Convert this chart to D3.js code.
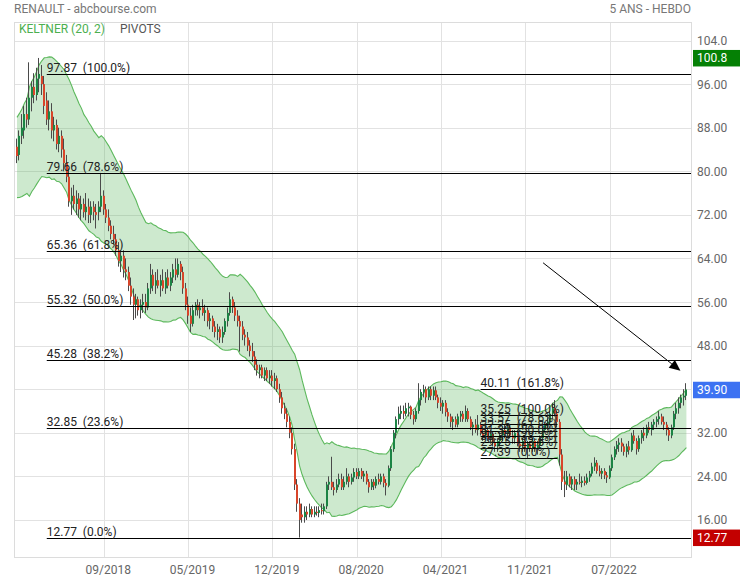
<!DOCTYPE html>
<html><head><meta charset="utf-8">
<script src="https://cdn.jsdelivr.net/npm/d3@7"></script>
<style>
body{margin:0;background:#fff}
text{font-family:Roboto,"Liberation Sans",sans-serif;font-size:12px}
</style>
</head><body>
<svg id="c" width="740" height="580"></svg>
<script>
// ---------- DATA (weekly candles) ----------
const opens = [
84.5,83.0,86.5,87.5,90.5,89.5,93.5,95.5,94.0,97.0,
97.5,96.0,93.0,89.5,91.0,87.5,88.5,85.0,86.5,84.0,
81.5,79.0,74.5,75.5,74.0,75.0,73.0,74.0,72.5,73.5,
72.0,73.5,72.5,72.5,73.5,75.5,73.0,71.5,70.0,68.5,
67.5,65.5,63.5,64.5,62.0,61.5,59.0,57.0,55.5,56.5,
54.5,55.5,56.0,55.0,58.5,61.0,59.0,60.0,59.0,60.0,
58.5,60.5,59.0,60.5,62.0,61.0,63.0,61.5,58.5,55.5,
53.5,52.0,54.5,55.5,54.5,55.0,54.0,54.5,52.5,53.0,
51.5,50.5,51.0,49.5,50.5,52.5,54.0,56.5,55.0,53.5,
52.5,51.5,50.0,49.5,48.0,47.0,46.0,44.5,43.5,44.0,
42.5,43.5,42.0,42.5,41.5,42.0,40.0,38.5,36.5,35.5,
34.0,32.0,29.0,22.5,19.0,17.0,16.5,17.5,17.0,18.0,
17.0,17.5,17.3,17.8,17.6,18.5,22.5,23.0,22.0,21.5,
22.5,23.5,22.0,23.0,24.0,23.0,23.8,24.8,24.0,25.0,
24.0,24.5,23.0,22.0,23.0,22.3,23.5,23.0,24.0,22.8,
22.3,25.5,29.0,32.0,34.5,35.5,36.0,35.5,36.5,36.8,
35.3,34.5,36.0,38.0,39.5,40.0,38.5,40.0,38.8,39.8,
38.5,37.5,36.8,37.5,35.8,35.0,34.0,34.5,33.5,35.0,
35.5,34.5,36.0,34.5,33.0,33.5,32.5,33.5,32.0,31.5,
32.5,31.0,31.8,30.2,29.5,30.5,31.5,32.5,31.8,33.0,
31.5,31.0,32.0,30.0,29.5,30.5,29.0,30.0,29.2,30.5,
29.0,29.8,31.0,32.5,33.5,34.0,35.5,36.5,35.5,34.0,
28.0,23.0,22.5,24.0,22.5,23.5,22.5,23.0,22.8,23.2,
22.8,23.8,24.5,25.8,26.5,25.0,24.5,25.0,24.2,23.8,
25.5,27.5,29.0,29.8,30.2,29.5,28.5,29.5,28.8,31.5,
30.5,29.0,31.0,32.0,31.5,33.0,32.5,33.5,34.0,34.5,
35.0,34.0,33.5,32.5,31.5,33.0,35.5,36.5,37.5,38.5,
38.8];
const highs = [
86.0,87.5,90.5,92.0,93.5,100.0,96.5,98.0,99.0,100.8,
99.5,97.5,94.5,93.0,92.5,90.0,89.5,88.0,87.5,86.0,
83.0,80.5,77.0,77.5,76.5,76.0,75.5,75.0,76.0,75.0,
74.5,74.5,74.0,74.5,79.7,76.5,74.0,73.0,71.0,70.0,
68.5,67.0,65.5,65.5,64.0,62.5,60.5,58.5,57.5,57.0,
56.5,57.5,57.5,59.5,63.0,62.0,61.5,62.0,61.0,62.0,
61.5,62.0,61.5,63.0,64.0,64.0,63.5,62.5,59.5,57.0,
55.0,55.5,56.0,56.5,56.0,56.5,55.5,55.0,54.0,53.5,
52.5,52.0,51.5,51.5,53.0,55.0,57.8,57.0,56.0,54.5,
53.5,52.5,51.0,50.5,49.0,48.5,47.0,45.5,44.5,44.5,
44.0,44.0,43.5,43.5,43.0,42.5,41.0,39.5,37.5,36.5,
35.0,33.0,30.0,23.5,20.0,19.0,18.5,18.5,19.0,18.5,
18.5,18.5,18.5,19.0,19.0,23.0,24.0,27.6,23.0,23.5,
24.5,24.5,24.0,25.5,24.5,24.5,25.5,25.5,25.5,25.5,
25.0,25.0,23.5,23.5,23.5,24.0,24.5,24.5,24.5,23.5,
26.0,29.5,32.5,35.0,36.8,37.0,37.0,37.5,37.5,37.0,
36.0,36.5,41.1,40.0,40.8,40.5,40.5,40.5,40.5,40.5,
39.0,38.5,38.0,38.0,36.5,35.5,35.0,35.0,35.5,36.0,
36.0,37.0,36.5,35.0,34.0,34.5,35.25,34.0,33.0,33.0,
33.0,32.5,32.0,31.0,31.0,32.0,33.0,33.5,33.5,33.5,
32.5,32.5,32.5,31.0,31.0,31.0,30.5,30.5,31.0,31.0,
30.5,31.5,33.0,34.0,35.0,36.0,37.5,38.0,36.0,34.5,
29.0,25.0,25.0,24.5,24.0,24.0,23.5,24.5,24.0,24.0,
24.5,25.0,26.5,27.5,27.0,26.0,25.5,25.5,24.8,26.0,
28.0,29.5,30.5,31.0,31.0,30.0,30.0,30.5,32.0,32.5,
31.0,31.5,32.5,33.0,33.5,34.0,34.0,34.5,35.0,36.0,
35.5,35.0,34.0,33.0,33.5,36.0,37.5,38.5,39.0,40.0,
41.1];
const lows = [
81.5,82.0,85.0,86.0,88.0,88.5,91.0,92.5,93.0,94.5,
94.0,90.5,88.5,87.5,86.0,85.5,84.0,83.5,82.5,80.0,
78.0,73.5,72.0,73.0,72.0,71.5,71.0,71.5,71.0,70.5,
70.5,71.0,69.5,71.0,72.5,72.0,70.5,69.0,67.5,66.5,
64.5,62.5,61.5,60.5,60.0,58.0,55.5,52.7,53.0,53.5,
53.0,54.0,54.0,54.5,57.5,58.0,57.5,58.5,57.0,58.0,
57.5,58.5,58.0,59.5,60.0,60.5,60.0,57.5,54.5,52.0,
50.5,51.5,53.5,53.5,53.0,53.5,52.5,51.5,51.0,50.5,
49.5,49.0,48.5,48.5,50.0,51.5,53.5,54.0,52.5,51.5,
46.9,49.0,48.0,47.0,46.0,45.0,43.5,42.5,42.0,42.0,
41.5,41.5,41.0,40.5,40.0,39.5,37.5,35.5,34.5,33.0,
31.0,28.0,21.5,17.5,12.77,15.5,15.5,16.0,16.5,16.5,
16.5,16.8,16.5,17.0,17.0,18.0,21.5,21.5,20.5,21.0,
22.0,21.5,21.5,22.5,22.0,22.5,23.0,23.5,23.5,23.5,
23.0,22.5,21.0,21.5,21.5,21.8,22.5,22.5,22.0,20.5,
22.0,25.0,28.5,31.0,33.5,34.5,34.5,35.0,35.0,34.5,
33.5,34.0,35.5,37.0,38.5,37.5,38.0,38.0,38.0,38.0,
36.5,36.0,35.5,35.0,34.0,33.0,32.5,33.0,33.0,34.0,
34.0,34.0,34.0,32.5,31.5,32.0,31.5,31.5,30.5,31.0,
30.5,30.0,29.5,28.5,28.5,29.5,30.5,31.0,31.0,31.0,
30.0,30.0,29.5,28.5,28.5,28.5,27.39,28.5,28.5,28.5,
28.0,29.0,30.5,32.0,32.5,33.5,34.5,35.0,33.0,26.0,
21.5,20.2,21.5,22.0,21.5,21.5,21.5,22.5,22.0,22.3,
22.5,23.0,24.0,25.0,24.5,24.0,23.5,23.5,22.8,23.5,
25.0,27.0,28.0,28.5,28.5,27.8,27.5,28.0,28.5,30.0,
28.0,28.5,30.0,30.5,31.0,32.0,31.5,32.5,33.0,33.5,
33.5,32.5,31.5,30.5,31.0,32.5,34.5,35.5,36.5,37.0,
38.0];
const closes = [
82.8,86.5,88.0,90.5,89.5,93.5,95.5,94.0,97.0,97.87,
96.0,92.0,89.5,91.0,87.5,88.5,85.0,86.5,84.0,81.5,
79.0,74.5,75.5,74.0,75.0,73.0,74.0,72.5,73.5,72.0,
73.5,72.5,72.0,73.5,75.5,73.0,71.5,70.0,68.5,67.5,
65.5,63.5,64.5,62.0,61.5,59.0,57.0,55.5,56.5,54.5,
55.5,56.0,55.0,58.5,61.0,59.0,60.0,59.0,60.0,58.5,
60.5,59.0,60.5,62.0,61.0,63.0,61.5,58.5,55.5,53.5,
52.0,54.5,55.5,54.5,55.0,54.0,54.5,52.5,53.0,51.5,
50.5,51.0,49.5,50.5,52.5,54.0,56.5,55.0,53.5,52.5,
51.5,50.0,49.5,48.0,47.0,46.0,44.5,43.5,44.0,42.5,
43.5,42.0,42.5,41.5,42.0,40.0,38.5,36.5,35.5,34.0,
32.0,29.0,22.5,19.0,16.0,16.5,17.5,17.0,18.0,17.0,
17.5,17.3,17.8,17.6,18.5,22.5,23.0,22.0,21.5,22.5,
23.5,22.0,23.0,24.0,23.0,23.8,24.8,24.0,25.0,24.0,
24.5,23.0,22.0,23.0,22.3,23.5,23.0,24.0,22.8,22.3,
25.5,29.0,32.0,34.5,35.5,36.0,35.5,36.5,36.8,35.3,
34.5,36.0,38.0,39.5,40.0,38.5,40.0,38.8,39.8,38.5,
37.5,36.8,37.5,35.8,35.0,34.0,34.5,33.5,35.0,35.5,
34.5,36.0,34.5,33.0,33.5,32.5,33.5,32.0,31.5,32.5,
31.0,31.8,30.2,29.5,30.5,31.5,32.5,31.8,33.0,31.5,
31.0,32.0,30.0,29.5,30.5,29.0,30.0,29.2,30.5,29.0,
29.8,31.0,32.5,33.5,34.0,35.5,36.5,35.5,34.0,28.0,
23.0,22.5,24.0,22.5,23.5,22.5,23.0,22.8,23.2,22.8,
23.8,24.5,25.8,26.5,25.0,24.5,25.0,24.2,23.8,25.5,
27.5,29.0,29.8,30.2,29.5,28.5,29.5,28.8,31.5,30.5,
29.0,31.0,32.0,31.5,33.0,32.5,33.5,34.0,34.5,35.0,
34.0,33.5,32.5,31.5,33.0,35.5,36.5,37.5,38.5,38.8,
39.9];

const xTickIdx = [35,69,103,137,171,205,239];
const xTickLabels = ["09/2018","05/2019","12/2019","08/2020","04/2021","11/2021","07/2022"];
const yTicks = [16,24,32,40,48,56,64,72,80,88,96,104];
const yTickLabels = ["16.00","24.00","32.00","40.00","48.00","56.00","64.00","72.00","80.00","88.00","96.00","104.0"];

const fibMainValues = [97.87,79.66,65.36,55.32,45.28,32.85,12.77];
const fibMainLabels = ["97.87  (100.0%)","79.66  (78.6%)","65.36  (61.8%)","55.32  (50.0%)","45.28  (38.2%)","32.85  (23.6%)","12.77  (0.0%)"];
const fibMainStartIdx = 12;
const fibSubValues = [40.11,35.25,33.57,32.25,31.32,30.39,29.25,27.39];
const fibSubLabels = ["40.11  (161.8%)","35.25  (100.0%)","33.57  (78.6%)","32.25  (61.8%)","31.32  (50.0%)","30.39  (38.2%)","29.25  (23.6%)","27.39  (0.0%)"];
const fibSubRange = [187, 218];

const kcPeriod = 20, kcMult = 2, kcSeedEma = 82.5, kcSeedAtr = 3.6;
const arrowFrom = [212.2, 63.2], arrowTo = [267.6, 43.4];

// ---------- LAYOUT ----------
const svg = d3.select("#c");
const L = 14, R = 691, T = 22, B = 557;
const N = closes.length;
const x = d3.scaleLinear().domain([0, N - 1]).range([17, 686.4]);
const y = d3.scaleLinear().domain([9.2, 107.4]).range([B, T]);

svg.append("rect").attr("width", 740).attr("height", 580).attr("fill", "#fff");

// title
svg.append("text").attr("x", 14).attr("y", 13).attr("fill", "#777").text("RENAULT - abcbourse.com");
svg.append("text").attr("x", 691).attr("y", 13).attr("fill", "#777").attr("text-anchor", "end").text("5 ANS - HEBDO");

// grid
const grid = svg.append("g").attr("stroke", "#e2e2e2").attr("stroke-width", 1);
yTicks.forEach(v => {
  const yy = Math.round(y(v)) + 0.5;
  grid.append("line").attr("x1", L).attr("x2", R).attr("y1", yy).attr("y2", yy);
});
xTickIdx.forEach(i => {
  const xx = Math.round(x(i)) + 0.5;
  grid.append("line").attr("x1", xx).attr("x2", xx).attr("y1", T).attr("y2", B);
});
svg.append("rect").attr("x", L + 0.5).attr("y", T + 0.5).attr("width", R - L).attr("height", B - T)
  .attr("fill", "none").attr("stroke", "#dcdcdc");

// header legend
svg.append("text").attr("x", 19).attr("y", 33).attr("fill", "#4caf50").text("KELTNER (20, 2)");
svg.append("text").attr("x", 120).attr("y", 33).attr("fill", "#555").text("PIVOTS");

// clip
svg.append("clipPath").attr("id", "pc").append("rect")
  .attr("x", L + 1).attr("y", T + 20).attr("width", R - L - 1).attr("height", B - T - 20);
const plot = svg.append("g").attr("clip-path", "url(#pc)");

// Keltner channel: EMA(close) +/- mult * ATR
const upper = [], lower = [];
let ema = kcSeedEma, atr = kcSeedAtr;
const a = 2 / (kcPeriod + 1);
for (let i = 0; i < N; i++) {
  const pc = i > 0 ? closes[i - 1] : opens[i];
  const tr = Math.max(highs[i] - lows[i], Math.abs(highs[i] - pc), Math.abs(lows[i] - pc));
  ema += a * (closes[i] - ema);
  atr += a * (tr - atr);
  upper.push(ema + kcMult * atr);
  lower.push(ema - kcMult * atr);
}
const idx = d3.range(N);
plot.append("path").datum(idx)
  .attr("d", d3.area().x(i => x(i)).y0(i => y(lower[i])).y1(i => y(upper[i])))
  .attr("fill", "#4caf50").attr("fill-opacity", 0.28);
[upper, lower].forEach(arr => {
  plot.append("path").datum(idx)
    .attr("d", d3.line().x(i => x(i)).y(i => y(arr[i])))
    .attr("fill", "none").attr("stroke", "#5cb85c").attr("stroke-width", 1.1);
});

// candles (pixel-snapped)
const cg = plot.append("g");
idx.forEach(i => {
  const up = closes[i] >= opens[i];
  const col = up ? "#1c8445" : "#d8452a";
  const px = Math.round(x(i));
  cg.append("line").attr("x1", px - 0.5).attr("x2", px - 0.5)
    .attr("y1", y(highs[i])).attr("y2", y(lows[i]))
    .attr("stroke", "#4a4a4a").attr("stroke-width", 1);
  const y0 = y(Math.max(opens[i], closes[i])), y1 = y(Math.min(opens[i], closes[i]));
  cg.append("rect").attr("x", px - 1).attr("width", 2)
    .attr("y", y0).attr("height", Math.max(1, y1 - y0)).attr("fill", col);
});

// Fibonacci (main)
const fg = svg.append("g");
fibMainValues.forEach((v, k) => {
  const yy = Math.round(y(v)) + 0.5;
  fg.append("line").attr("x1", x(fibMainStartIdx)).attr("x2", R).attr("y1", yy).attr("y2", yy)
    .attr("stroke", "#000").attr("stroke-width", 1);
  fg.append("text").attr("x", x(fibMainStartIdx)).attr("y", yy - 2.5).attr("fill", "#222")
    .style("white-space", "pre").text(fibMainLabels[k]);
});
// Fibonacci (recent swing)
fibSubValues.forEach((v, k) => {
  const yy = Math.round(y(v)) + 0.5;
  fg.append("line").attr("x1", x(fibSubRange[0])).attr("x2", x(fibSubRange[1])).attr("y1", yy).attr("y2", yy)
    .attr("stroke", "#000").attr("stroke-width", 1);
  fg.append("text").attr("x", x(fibSubRange[0])).attr("y", yy - 2.5).attr("fill", "#222")
    .style("white-space", "pre").text(fibSubLabels[k]);
});

// arrow
const ax0 = x(arrowFrom[0]), ay0 = y(arrowFrom[1]), ax1 = x(arrowTo[0]), ay1 = y(arrowTo[1]);
const ang = Math.atan2(ay1 - ay0, ax1 - ax0), hl = 11, hw = 5;
const bx = ax1 - hl * Math.cos(ang), by = ay1 - hl * Math.sin(ang);
svg.append("line").attr("x1", ax0).attr("y1", ay0).attr("x2", bx).attr("y2", by).attr("stroke", "#000").attr("stroke-width", 1);
svg.append("path").attr("fill", "#000").attr("d",
  `M${ax1},${ay1}L${bx + hw * Math.sin(ang)},${by - hw * Math.cos(ang)}L${bx - hw * Math.sin(ang)},${by + hw * Math.cos(ang)}Z`);

// price boxes
const boxes = [
  {v: d3.max(highs), label: d3.format(".1f")(d3.max(highs)), col: "#058005"},
  {v: closes[N - 1], label: d3.format(".2f")(closes[N - 1]), col: "#3d72f2"},
  {v: d3.min(lows), label: d3.format(".2f")(d3.min(lows)), col: "#c30000"}
];

// y labels (hidden under a price box when too close)
yTicks.forEach((v, k) => {
  const yy = y(v);
  if (boxes.some(b => Math.abs(y(b.v) - yy) < 11)) return;
  svg.append("text").attr("x", 697).attr("y", yy + 4.5).attr("fill", "#666").text(yTickLabels[k]);
});
boxes.forEach(b => {
  const yy = y(b.v);
  svg.append("rect").attr("x", 693).attr("y", yy - 8).attr("width", 47).attr("height", 16.5).attr("fill", b.col);
  svg.append("text").attr("x", 697).attr("y", yy + 4.5).attr("fill", "#fff").text(b.label);
});

// x labels
xTickIdx.forEach((i, k) => {
  svg.append("text").attr("x", x(i) + 4.5).attr("y", 574).attr("fill", "#666")
    .attr("text-anchor", "middle").text(xTickLabels[k]);
});
</script>
</body></html>
